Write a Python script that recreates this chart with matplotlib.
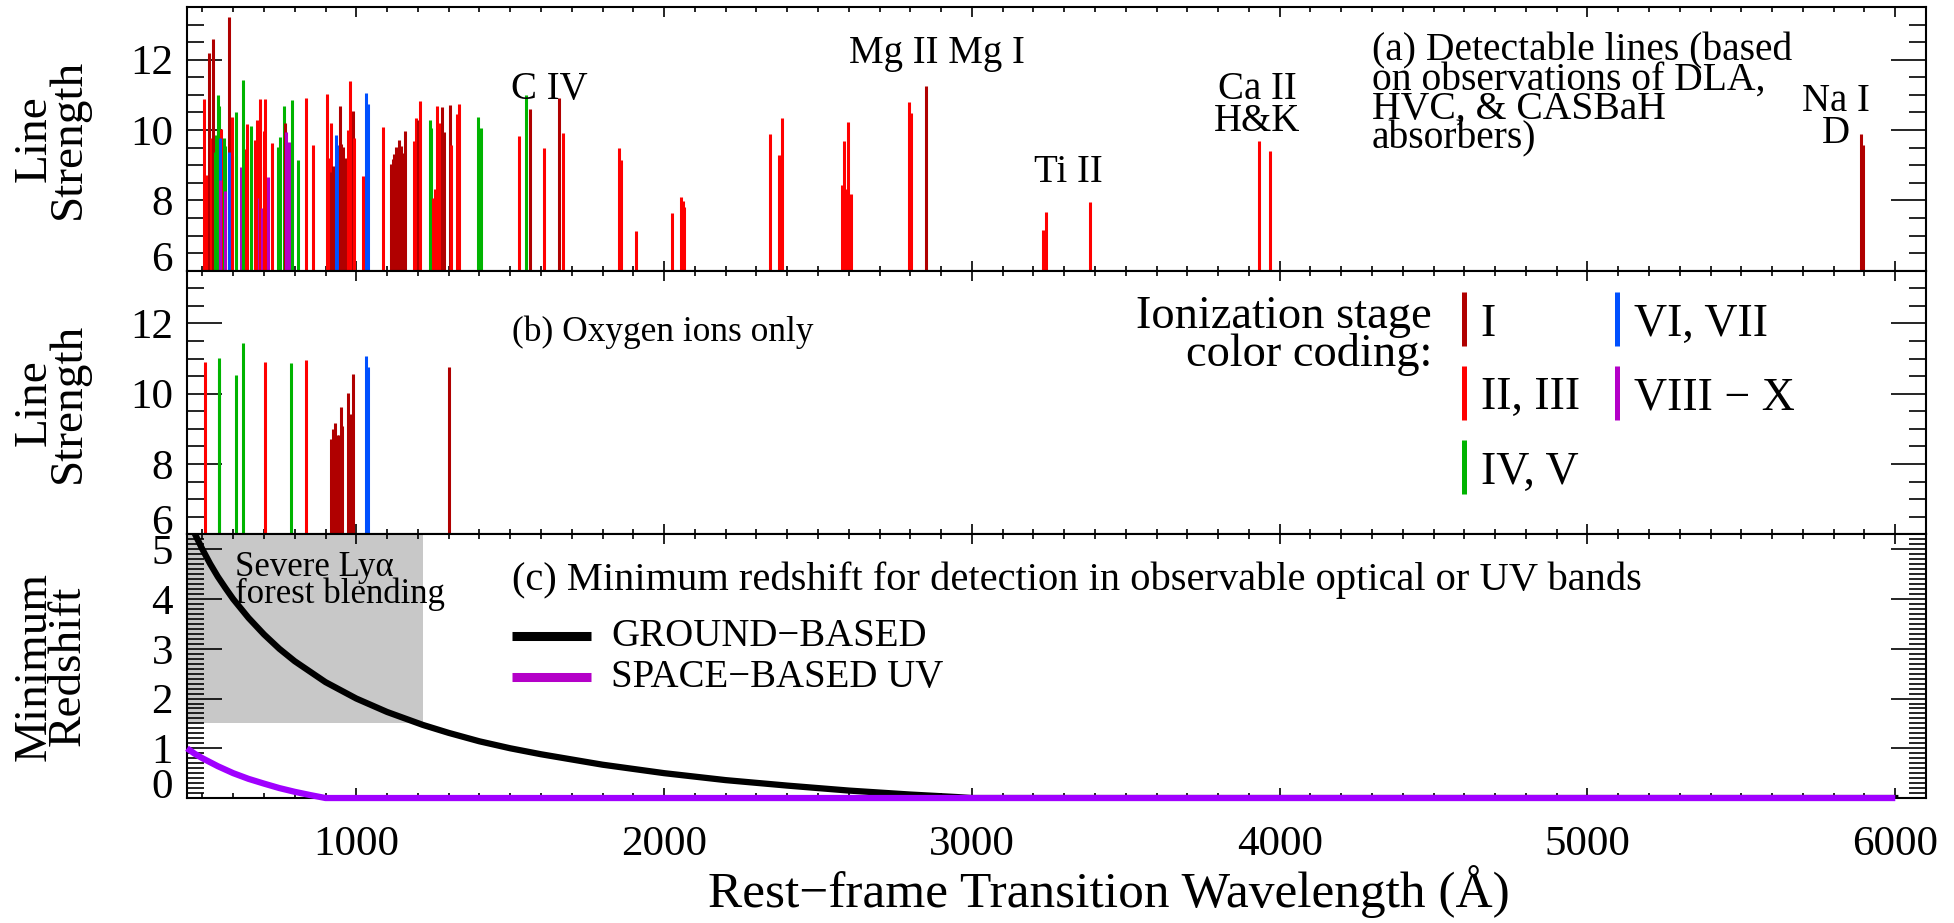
import matplotlib.pyplot as plt
from matplotlib.patches import Rectangle
from matplotlib.ticker import MultipleLocator

plt.rcParams["font.family"] = ["Liberation Serif", "DejaVu Serif"]

# colour per ionization stage
stage_colors = {"I": "#b00000", "II": "#ff0000", "IV": "#00b400",
                "VI": "#0050ff", "VIII": "#b400c8"}

# (a) detectable lines: rest wavelength (A), line strength, stage
all_wave = [506, 513, 522, 529, 536, 540, 543, 552, 553, 562, 558, 558, 569, 572,
            575, 586, 586, 596, 609, 609, 624, 631, 643, 645, 658, 672, 678, 683,
            688, 693, 700, 700, 704, 714, 726, 746, 751, 765, 767, 772, 783, 790,
            810, 835, 860, 906, 911, 917, 919, 925, 933, 944, 946, 951, 958, 963,
            969, 974, 980, 989, 993, 1022, 1032, 1038, 1086, 1114, 1118, 1124, 1129,
            1135, 1140, 1145, 1154, 1159, 1189, 1194, 1200, 1208, 1241, 1244, 1250,
            1257, 1263, 1268, 1279, 1284, 1303, 1308, 1328, 1335, 1395, 1404, 1528,
            1550, 1563, 1610, 1658, 1670, 1852, 1861, 1909, 2025, 2054, 2060, 2065,
            2343, 2373, 2382, 2577, 2585, 2593, 2599, 2606, 2796, 2803, 2852, 3230,
            3242, 3384, 3934, 3969, 5890, 5896]
all_strength = [10.88, 8.73, 12.18, 9.76, 12.59, 9.38, 9.85, 10.99, 10.69, 10.02, 9.76,
                8.57, 9.78, 9.54, 8.28, 13.21, 9.38, 10.37, 9.26, 10.51, 8.95, 11.42,
                9.45, 10.18, 10.11, 9.73, 10.29, 8.07, 10.88, 7.78, 8.95, 9.97, 10.88,
                8.66, 9.64, 9.51, 9.80, 10.69, 10.19, 9.95, 9.66, 10.85, 9.16, 10.92,
                9.57, 11.02, 9.20, 10.19, 8.80, 8.97, 9.85, 9.57, 10.69, 9.59, 9.52,
                9.20, 9.19, 9.99, 11.40, 10.54, 9.76, 8.70, 11.04, 10.73, 10.09, 9.04,
                9.18, 9.32, 9.51, 9.16, 9.73, 9.54, 9.35, 9.97, 9.70, 10.35, 10.30,
                10.83, 10.30, 10.07, 8.07, 8.33, 10.69, 10.21, 10.66, 9.95, 10.70, 9.57,
                10.45, 10.75, 10.37, 10.07, 9.83, 10.99, 10.59, 9.48, 10.92, 9.92, 9.48,
                9.16, 7.14, 7.63, 8.10, 7.97, 7.80, 9.88, 9.30, 10.33, 8.45, 9.69, 8.33,
                10.24, 8.18, 10.80, 10.48, 11.24, 7.16, 7.66, 7.94, 9.70, 9.40, 9.89,
                9.57]
all_stage = ["II", "II", "I", "II", "I", "IV", "IV", "IV", "IV", "II", "VI", "VIII",
             "IV", "IV", "VIII", "I", "VI", "II", "VIII", "IV", "VIII", "IV", "II",
             "II", "IV", "II", "II", "VIII", "II", "VIII", "VIII", "II", "II", "VIII",
             "II", "IV", "IV", "IV", "I", "VIII", "VIII", "IV", "IV", "II", "II", "II",
             "II", "II", "I", "I", "VI", "VI", "I", "I", "I", "I", "I", "II", "II",
             "I", "II", "II", "VI", "VI", "II", "I", "I", "I", "I", "I", "I", "I", "I",
             "I", "II", "II", "I", "II", "IV", "IV", "II", "II", "II", "II", "I", "I",
             "I", "II", "II", "II", "IV", "IV", "II", "IV", "I", "II", "I", "II", "II",
             "II", "II", "II", "II", "II", "II", "II", "II", "II", "II", "II", "II",
             "II", "II", "II", "II", "I", "II", "II", "II", "II", "II", "I", "I"]

# (b) oxygen ions only
oxy_wave = [508, 554, 555, 610, 631, 704, 789, 835, 919, 923, 930, 937, 943, 949,
            953, 973, 978, 990, 1032, 1038, 1302]
oxy_strength = [10.89, 11.01, 10.71, 10.53, 11.44, 10.90, 10.86, 10.96, 8.71, 9.00,
                9.17, 8.84, 8.84, 9.62, 9.09, 10.02, 9.43, 10.57, 11.06, 10.76, 10.75]
oxy_stage = ["II", "IV", "IV", "IV", "IV", "II", "IV", "II", "I", "I", "I", "I", "I",
             "I", "I", "I", "I", "I", "VI", "VI", "I"]

# (c) minimum redshift for detection
ground_wave = [470, 500, 525, 550, 575, 600, 650, 700, 750, 800, 900, 1000, 1100,
               1216, 1300, 1400, 1500, 1600, 1800, 2000, 2200, 2400, 2600, 2800,
               2950, 3000, 6000]
ground_z = [5.38, 5.00, 4.71, 4.45, 4.22, 4.00, 3.62, 3.29, 3.00, 2.75, 2.33, 2.00,
            1.73, 1.47, 1.31, 1.14, 1.00, 0.88, 0.67, 0.50, 0.36, 0.25, 0.15, 0.07,
            0.02, 0.00, 0.00]
space_wave = [450, 475, 500, 550, 600, 650, 700, 750, 800, 850, 900, 6000]
space_z = [1.00, 0.89, 0.80, 0.64, 0.50, 0.385, 0.29, 0.20, 0.125, 0.06, 0.00, 0.00]
lya_wave = 1216
blend_z = 1.5

legend_rows = [["I", "II", "IV"], ["VI", "VIII"]]
legend_names = {"I": "I", "II": "II, III", "IV": "IV, V", "VI": "VI, VII",
                "VIII": "VIII \u2212 X"}

fig, axs = plt.subplots(3, 1, figsize=(19.54, 9.23), dpi=100, sharex=True)
fig.subplots_adjust(left=0.0957, right=0.9857, bottom=0.1354, top=0.9924, hspace=0)
ax1, ax2, ax3 = axs

ax1.vlines(all_wave, 6, all_strength, colors=[stage_colors[s] for s in all_stage], lw=2.2)
ax2.vlines(oxy_wave, 6, oxy_strength, colors=[stage_colors[s] for s in oxy_stage], lw=2.2)

ax3.add_patch(Rectangle((450, blend_z), lya_wave - 450, 6 - blend_z,
                        facecolor="#c8c8c8", edgecolor="none", zorder=0))
ax3.plot(ground_wave, ground_z, color="black", lw=4.5, zorder=2)
ax3.plot(space_wave, space_z, color="#a000ff", lw=4.5, zorder=3, clip_on=False,
         solid_capstyle="butt")

for ax in axs:
    ax.set_xlim(450, 6100)
    ax.xaxis.set_major_locator(MultipleLocator(1000))
    ax.xaxis.set_minor_locator(MultipleLocator(100))
    ax.tick_params(which="both", direction="in", top=True, right=True,
                   labelsize=31, width=1.2)
    ax.tick_params(axis="y", which="major", length=25, pad=10)
    ax.tick_params(axis="y", which="minor", length=12)
    ax.tick_params(axis="x", which="major", length=7.5, pad=20)
    ax.tick_params(axis="x", which="minor", length=3.6)
    for sp in ax.spines.values():
        sp.set_linewidth(1.5)

for ax in (ax1, ax2):
    ax.set_ylim(6, 13.5)
    ax.set_yticks([6, 8, 10, 12])
    ax.yaxis.set_minor_locator(MultipleLocator(0.5))
    ax.set_ylabel("Line\nStrength", fontsize=34, linespacing=0.74)

ax3.set_ylim(0, 5.3)
ax3.set_yticks(range(6))
ax3.yaxis.set_minor_locator(MultipleLocator(0.1))
ax3.set_ylabel("Minimum\nRedshift", fontsize=34, linespacing=0.74)
ax3.set_xlabel("Rest\u2212frame Transition Wavelength (\u00c5)", fontsize=37)
ax3.xaxis.set_label_coords(0.530, -0.255)

# lowest label sits above the bottom axis, like the original
for ax in axs:
    ax.yaxis.get_major_ticks()[0].label1.set_va("baseline")
    ax.yaxis.set_label_coords(-0.056, 0.5)

# panel (a) annotations
ax1.text(0.6814, 0.464, "(a) Detectable lines (based\non observations of DLA,\n"
         "HVC, & CASBaH\nabsorbers)", transform=ax1.transAxes, fontsize=28.5,
         va="baseline", linespacing=0.72)
for txt, fx, fy in [("C IV", 0.2082, 0.650), ("Mg II Mg I", 0.4313, 0.787),
                    ("Ti II", 0.5066, 0.3346), ("Ca II\nH&K", 0.6153, 0.5285),
                    ("Na I\nD", 0.9482, 0.4829)]:
    ax1.text(fx, fy, txt, transform=ax1.transAxes, fontsize=28, ha="center",
             va="baseline", linespacing=0.85)

# panel (b) annotations and colour key
ax2.text(0.1869, 0.765, "(b) Oxygen ions only", transform=ax2.transAxes,
         fontsize=25.5, va="center")
ax2.text(0.716, 0.784, "Ionization stage", transform=ax2.transAxes,
         fontsize=33.5, ha="right", va="baseline")
ax2.text(0.716, 0.640, "color coding:", transform=ax2.transAxes,
         fontsize=33.5, ha="right", va="baseline")
row_top = [0.920, 0.640, 0.358]
col_x = [0.7343, 0.8223]
for ci, col in enumerate(legend_rows):
    for ri, st in enumerate(col):
        ax2.plot([col_x[ci], col_x[ci]], [row_top[ri], row_top[ri] - 0.206],
                 transform=ax2.transAxes, color=stage_colors[st], lw=3.6,
                 solid_capstyle="butt")
        ax2.text(col_x[ci] + 0.0095, row_top[ri] - 0.166, legend_names[st],
                 transform=ax2.transAxes, fontsize=33, va="baseline")

# panel (c) annotations and legend
ax3.text(0.1869, 0.826, "(c) Minimum redshift for detection in observable optical or UV bands",
         transform=ax3.transAxes, fontsize=29.2, va="center")
ax3.text(0.0276, 0.740, "Severe Ly\u03b1\nforest blending", transform=ax3.transAxes,
         fontsize=25, va="baseline", linespacing=0.75)
for label, color, fy in [("GROUND\u2212BASED", "black", 0.6136),
                         ("SPACE\u2212BASED UV", "#b400c8", 0.4583)]:
    ax3.plot([0.1869, 0.2323], [fy, fy], transform=ax3.transAxes, color=color,
             lw=6.5, solid_capstyle="butt")
    ax3.text(0.2438, fy, label, transform=ax3.transAxes, fontsize=28, va="center")

fig.savefig("out.png", dpi=100)
